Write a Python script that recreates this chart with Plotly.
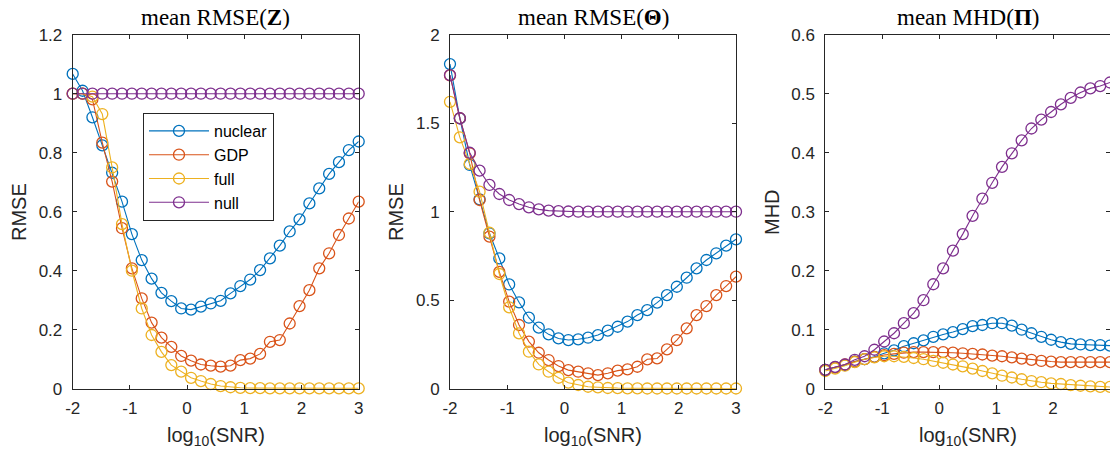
import plotly.graph_objects as go

# ---------------- data ----------------
x_vals = [-2.0, -1.8276, -1.6552, -1.4828, -1.3103, -1.1379, -0.9655, -0.7931, -0.6207, -0.4483,
          -0.2759, -0.1034, 0.0690, 0.2414, 0.4138, 0.5862, 0.7586, 0.9310, 1.1034, 1.2759,
          1.4483, 1.6207, 1.7931, 1.9655, 2.1379, 2.3103, 2.4828, 2.6552, 2.8276, 3.0]

series_names = ["nuclear", "GDP", "full", "null"]

# Panel 1: mean RMSE(Z)
z_nuclear = [1.067, 1.010, 0.920, 0.825, 0.732, 0.634, 0.524, 0.436, 0.373, 0.325,
             0.297, 0.272, 0.268, 0.278, 0.289, 0.298, 0.323, 0.348, 0.370, 0.402,
             0.442, 0.485, 0.533, 0.574, 0.628, 0.679, 0.728, 0.768, 0.809, 0.838]
z_gdp = [1.000, 1.000, 0.981, 0.834, 0.702, 0.544, 0.408, 0.306, 0.224, 0.173,
         0.142, 0.111, 0.095, 0.082, 0.078, 0.075, 0.078, 0.097, 0.102, 0.118,
         0.159, 0.165, 0.221, 0.280, 0.334, 0.408, 0.459, 0.521, 0.577, 0.634]
z_full = [1.000, 1.000, 0.990, 0.931, 0.750, 0.558, 0.400, 0.272, 0.182, 0.125,
          0.080, 0.058, 0.037, 0.026, 0.016, 0.009, 0.005, 0.003, 0.002, 0.002,
          0.001, 0.001, 0.001, 0.001, 0.001, 0.001, 0.001, 0.001, 0.001, 0.001]
z_null = [1.0] * 30

# Panel 2: mean RMSE(Theta)
t_nuclear = [1.834, 1.527, 1.264, 1.070, 0.878, 0.736, 0.589, 0.488, 0.401, 0.345,
             0.307, 0.284, 0.275, 0.279, 0.288, 0.303, 0.328, 0.350, 0.379, 0.416,
             0.444, 0.486, 0.529, 0.576, 0.627, 0.680, 0.727, 0.765, 0.808, 0.844]
t_gdp = [1.770, 1.528, 1.330, 1.066, 0.859, 0.660, 0.492, 0.360, 0.266, 0.203,
         0.162, 0.128, 0.105, 0.096, 0.087, 0.077, 0.087, 0.102, 0.109, 0.124,
         0.166, 0.171, 0.222, 0.275, 0.341, 0.416, 0.467, 0.529, 0.580, 0.633]
t_full = [1.621, 1.420, 1.270, 1.113, 0.881, 0.648, 0.460, 0.313, 0.209, 0.137,
          0.096, 0.062, 0.034, 0.021, 0.011, 0.008, 0.004, 0.003, 0.002, 0.002,
          0.001, 0.001, 0.001, 0.001, 0.001, 0.001, 0.001, 0.001, 0.001, 0.001]
t_null = [1.772, 1.528, 1.333, 1.232, 1.151, 1.100, 1.066, 1.043, 1.025, 1.013,
          1.006, 1.003, 1.001, 1.000, 1.000, 1.000, 1.000, 1.000, 1.000, 1.000,
          1.000, 1.000, 1.000, 1.000, 1.000, 1.000, 1.000, 1.000, 1.000, 1.000]

# Panel 3: mean MHD(Pi)
p_nuclear = [0.032, 0.036, 0.040, 0.046, 0.050, 0.054, 0.060, 0.065, 0.072, 0.077,
             0.082, 0.088, 0.092, 0.096, 0.101, 0.106, 0.108, 0.111, 0.111, 0.107,
             0.100, 0.094, 0.088, 0.083, 0.079, 0.076, 0.075, 0.074, 0.074, 0.073]
p_gdp = [0.032, 0.036, 0.041, 0.046, 0.050, 0.054, 0.057, 0.059, 0.061, 0.062,
         0.062, 0.062, 0.062, 0.061, 0.060, 0.059, 0.058, 0.056, 0.055, 0.053,
         0.051, 0.049, 0.047, 0.046, 0.045, 0.045, 0.045, 0.045, 0.045, 0.045]
p_full = [0.030, 0.034, 0.039, 0.045, 0.050, 0.053, 0.055, 0.055, 0.054, 0.052,
          0.050, 0.047, 0.044, 0.041, 0.038, 0.034, 0.030, 0.026, 0.022, 0.019,
          0.016, 0.013, 0.011, 0.009, 0.008, 0.006, 0.005, 0.004, 0.003, 0.003]
p_null = [0.032, 0.037, 0.041, 0.049, 0.055, 0.066, 0.080, 0.094, 0.111, 0.128,
          0.150, 0.177, 0.204, 0.234, 0.262, 0.293, 0.322, 0.349, 0.376, 0.399,
          0.421, 0.441, 0.456, 0.469, 0.482, 0.493, 0.502, 0.509, 0.513, 0.519]

x_tickvals = [-2, -1, 0, 1, 2, 3]
x_ticktext = ["-2", "-1", "0", "1", "2", "3"]
y1_tickvals = [0, 0.2, 0.4, 0.6, 0.8, 1.0, 1.2]
y1_ticktext = ["0", "0.2", "0.4", "0.6", "0.8", "1", "1.2"]
y2_tickvals = [0, 0.5, 1.0, 1.5, 2.0]
y2_ticktext = ["0", "0.5", "1", "1.5", "2"]
y3_tickvals = [0, 0.1, 0.2, 0.3, 0.4, 0.5, 0.6]
y3_ticktext = ["0", "0.1", "0.2", "0.3", "0.4", "0.5", "0.6"]

panel_titles = ["mean RMSE(<b>Z</b>)", "mean RMSE(<b>Θ</b>)", "mean MHD(<b>Π</b>)"]
y_titles = ["RMSE", "RMSE", "MHD"]
x_title = "log<sub>10</sub>(SNR)"

colors = ["#0072BD", "#D95319", "#EDB120", "#7E2F8E"]

# ---------------- figure ----------------
W, H = 1110, 455


def px(xs):
    return xs / W


def py(ys):
    return 1 - ys / H


fig = go.Figure()

panels = [
    ([z_nuclear, z_gdp, z_full, z_null], "x", "y"),
    ([t_nuclear, t_gdp, t_full, t_null], "x2", "y2"),
    ([p_nuclear, p_gdp, p_full, p_null], "x3", "y3"),
]
for pi, (ys, xa, ya) in enumerate(panels):
    for si, yv in enumerate(ys):
        fig.add_trace(go.Scatter(
            x=x_vals, y=yv, xaxis=xa, yaxis=ya,
            mode="lines+markers", name=series_names[si],
            line=dict(color=colors[si], width=1.1),
            marker=dict(symbol="circle-open", size=11, color=colors[si],
                        line=dict(width=1.3, color=colors[si])),
            cliponaxis=False,
            showlegend=(pi == 0),
        ))

# screen pixel geometry
left_s = [72.7, 450.0, 825.3]
right_s = [358.7, 736.0, 1111.0]
top_s, bot_s = 34.7, 388.7
ydom = [py(bot_s), py(top_s)]

axcommon = dict(showline=True, linecolor="#262626", linewidth=1, mirror="allticks",
                ticks="inside", ticklen=4, tickcolor="#262626", showgrid=False,
                zeroline=False, automargin=False,
                tickfont=dict(family="Liberation Sans, Arial", size=17, color="#262626"))

yinfo = [([0, 1.2], y1_tickvals, y1_ticktext), ([0, 2], y2_tickvals, y2_ticktext),
         ([0, 0.6], y3_tickvals, y3_ticktext)]
for i in range(3):
    sfx = "" if i == 0 else str(i + 1)
    fig.layout["xaxis" + sfx] = dict(
        domain=[px(left_s[i]), min(1.0, px(right_s[i]))], range=[-2, 3],
        anchor="y" + sfx, tickvals=x_tickvals, ticktext=x_ticktext,
        ticklabelstandoff=4, **axcommon)
    fig.layout["yaxis" + sfx] = dict(
        domain=ydom, range=yinfo[i][0], anchor="x" + sfx,
        tickvals=yinfo[i][1], ticktext=yinfo[i][2], ticklabelstandoff=6, **axcommon)

annotations = []
title_font = dict(family="Liberation Serif, Times New Roman", size=23, color="#000000")
label_font = dict(family="Liberation Sans, Arial", size=20, color="#262626")
ylab_x = [19, 396, 772]
for i in range(3):
    cx = px((left_s[i] + right_s[i]) / 2)
    annotations.append(dict(text=panel_titles[i], x=cx, y=py(18), xref="paper", yref="paper",
                            xanchor="center", yanchor="middle", showarrow=False,
                            borderpad=0, font=title_font))
    annotations.append(dict(text=x_title, x=cx, y=py(436), xref="paper", yref="paper",
                            xanchor="center", yanchor="middle", showarrow=False,
                            borderpad=0, font=label_font))
    annotations.append(dict(text=y_titles[i], x=px(ylab_x[i]), y=py(212), xref="paper",
                            yref="paper", xanchor="center", yanchor="middle", textangle=-90,
                            showarrow=False, borderpad=0, font=label_font))

fig.update_layout(
    template="none",
    width=W, height=H,
    margin=dict(l=0, r=0, t=0, b=0, pad=0),
    paper_bgcolor="white", plot_bgcolor="white",
    annotations=annotations,
    legend=dict(x=px(143), y=py(113), xanchor="left", yanchor="top",
                bgcolor="white", bordercolor="#262626", borderwidth=1,
                font=dict(family="Liberation Sans, Arial", size=16, color="#000000"),
                itemwidth=60, tracegroupgap=0),
    showlegend=True,
)

# remove the default 8px page margin so the figure fills the window exactly
fig.write_html("out.html",
               config={"displayModeBar": False},
               post_script="document.body.style.margin='0';document.body.style.overflow='hidden';")
